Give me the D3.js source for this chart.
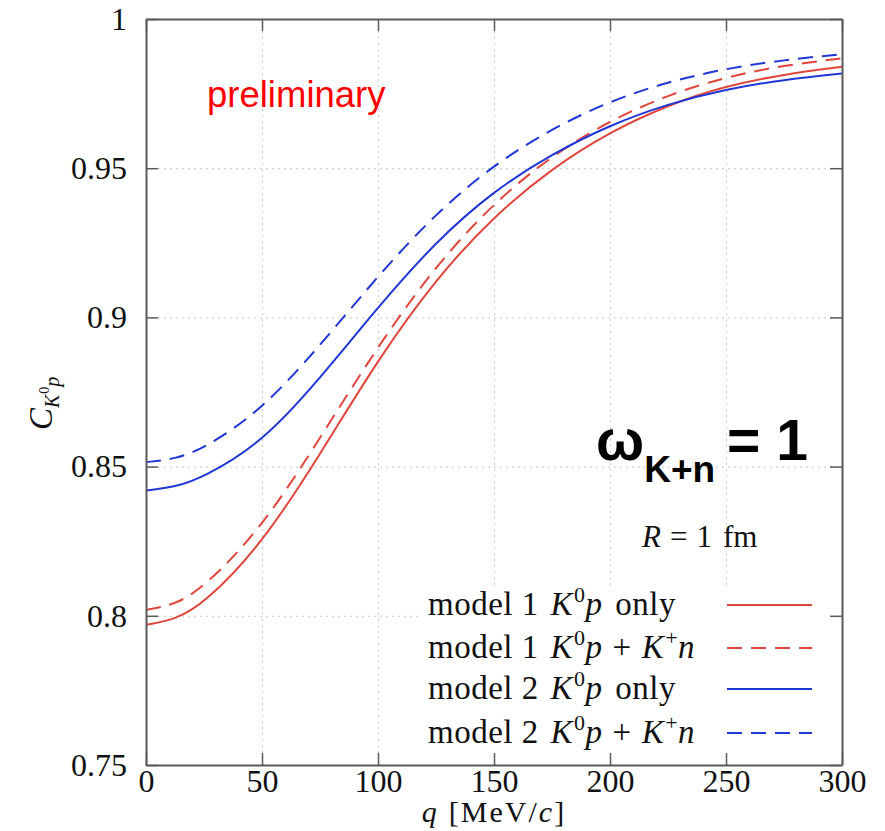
<!DOCTYPE html>
<html>
<head>
<meta charset="utf-8">
<script src="https://cdn.jsdelivr.net/npm/d3@7"></script>
<style>
  body { margin: 0; background: #fff; }
  svg text { font-family: "Liberation Serif", "DejaVu Serif", serif; fill: #111; }
</style>
</head>
<body>
<div id="chart"></div>
<script>
// values, q in MeV/c
const qValues = [0, 12.5, 25, 50, 75, 100, 125, 150, 175, 200, 225, 250, 275, 300];
const model1Only = [0.797, 0.7987, 0.8040, 0.8240, 0.8540, 0.8860, 0.9130, 0.9340, 0.9500, 0.9622, 0.9712, 0.9776, 0.9815, 0.9840];
const model1Both = [0.802, 0.8037, 0.8095, 0.8295, 0.8595, 0.8905, 0.9175, 0.9385, 0.9543, 0.9660, 0.9746, 0.9806, 0.9845, 0.9868];
const model2Only = [0.842, 0.8431, 0.8465, 0.8580, 0.8795, 0.9035, 0.9255, 0.9425, 0.9548, 0.9645, 0.9716, 0.9765, 0.9797, 0.9817];
const model2Both = [0.8515, 0.8525, 0.8560, 0.8690, 0.8905, 0.9140, 0.9350, 0.9512, 0.9633, 0.9725, 0.9790, 0.9834, 0.9863, 0.9882];

const xTicks = [0, 50, 100, 150, 200, 250, 300];
const yTicks = [0.75, 0.8, 0.85, 0.9, 0.95, 1];
const yTickLabels = ["0.75", "0.8", "0.85", "0.9", "0.95", "1"];

const seriesNames = ["model 1 K0p only", "model 1 K0p + K+n", "model 2 K0p only", "model 2 K0p + K+n"];

const red = "#e0463b";
const blue = "#1f37d6";

const series = [
    {name: seriesNames[0], values: model1Only, color: red, dash: null, both: false},
    {name: seriesNames[1], values: model1Both, color: red, dash: "15,9", both: true},
    {name: seriesNames[2], values: model2Only, color: blue, dash: null, both: false},
    {name: seriesNames[3], values: model2Both, color: blue, dash: "15,9", both: true}
];

const W = 885, H = 831;
const pLeft = 146, pRight = 842, pTop = 19, pBottom = 765;

const x = d3.scaleLinear().domain([0, 300]).range([pLeft, pRight]);
const y = d3.scaleLinear().domain([0.75, 1]).range([pBottom, pTop]);

const svg = d3.select("#chart").append("svg")
    .attr("width", W).attr("height", H);

// dotted grid
svg.append("g")
    .attr("transform", `translate(0,${pBottom})`)
    .call(d3.axisBottom(x).tickValues(xTicks).tickSize(-(pBottom - pTop)).tickFormat(""))
    .call(g => g.select(".domain").remove())
    .selectAll("line").attr("stroke", "#c8c8c8").attr("stroke-dasharray", "2,4");
svg.append("g")
    .attr("transform", `translate(${pLeft},0)`)
    .call(d3.axisLeft(y).tickValues(yTicks).tickSize(-(pRight - pLeft)).tickFormat(""))
    .call(g => g.select(".domain").remove())
    .selectAll("line").attr("stroke", "#c8c8c8").attr("stroke-dasharray", "2,4");

// legend background covers the grid
const legX = 420, legTop = 585;
svg.append("rect")
    .attr("x", legX).attr("y", legTop)
    .attr("width", pRight - legX).attr("height", pBottom - legTop)
    .attr("fill", "#fff");

// curves
const line = d3.line()
    .x((d, i) => x(qValues[i]))
    .y(d => y(d))
    .curve(d3.curveBasis);

series.forEach(s => {
    svg.append("path")
        .datum(s.values)
        .attr("d", line)
        .attr("fill", "none")
        .attr("stroke", s.color)
        .attr("stroke-width", 2)
        .attr("stroke-dasharray", s.dash);
});

// axes with inward ticks on all sides
const frameColor = "#5a5a5a";
function styleAxis(g) {
    g.select(".domain").attr("stroke", frameColor).attr("stroke-width", 2);
    g.selectAll(".tick line").attr("stroke", frameColor).attr("stroke-width", 1.5);
    g.selectAll("text").attr("font-family", "Liberation Serif, serif").attr("font-size", 32).attr("fill", "#111");
}

svg.append("g")
    .attr("transform", `translate(0,${pBottom})`)
    .call(d3.axisBottom(x).tickValues(xTicks).tickSize(-12).tickSizeOuter(0).tickPadding(4))
    .call(styleAxis);
svg.append("g")
    .attr("transform", `translate(${pLeft},0)`)
    .call(d3.axisLeft(y).tickValues(yTicks).tickSize(-12).tickSizeOuter(0).tickPadding(19)
        .tickFormat((d, i) => yTickLabels[i]))
    .call(styleAxis);
svg.append("g")
    .attr("transform", `translate(0,${pTop})`)
    .call(d3.axisTop(x).tickValues(xTicks).tickSize(-12).tickSizeOuter(0).tickFormat(""))
    .call(styleAxis);
svg.append("g")
    .attr("transform", `translate(${pRight},0)`)
    .call(d3.axisRight(y).tickValues(yTicks).tickSize(-12).tickSizeOuter(0).tickFormat(""))
    .call(styleAxis);

// axis titles
const xt = svg.append("text")
    .attr("x", 494).attr("y", 822)
    .attr("text-anchor", "middle")
    .attr("font-size", 30)
    .attr("letter-spacing", 2);
xt.append("tspan").attr("font-style", "italic").text("q");
xt.append("tspan").attr("dx", 10).text("[MeV/");
xt.append("tspan").attr("font-style", "italic").text("c");
xt.append("tspan").text("]");

const yt = svg.append("text")
    .attr("transform", "translate(52,430) rotate(-90)")
    .attr("font-size", 33);
yt.append("tspan").attr("font-style", "italic").text("C");
yt.append("tspan").attr("font-style", "italic").attr("font-size", 20).attr("dy", 7).text("K");
yt.append("tspan").attr("font-size", 14).attr("dy", -10).attr("dx", 1).text("0");
yt.append("tspan").attr("font-style", "italic").attr("font-size", 20).attr("dy", 10).text("p");

// annotations
svg.append("text")
    .attr("x", 207).attr("y", 107)
    .style("font-family", "Liberation Sans, Arial, sans-serif")
    .attr("font-size", 36.5)
    .style("fill", "#ff0000")
    .text("preliminary");

const om = svg.append("text")
    .attr("x", 596).attr("y", 460)
    .style("font-family", "Liberation Sans, Arial, sans-serif")
    .attr("font-weight", "bold")
    .attr("font-size", 57)
    .style("fill", "#000");
om.append("tspan").text("ω");
om.append("tspan").attr("font-size", 37).attr("dy", 22).text("K+n");
om.append("tspan").attr("dy", -22).attr("dx", 12).text("= 1");

const rt = svg.append("text")
    .attr("x", 642).attr("y", 547)
    .attr("font-size", 31);
rt.append("tspan").attr("font-style", "italic").text("R");
rt.append("tspan").attr("dx", 9).text("=");
rt.append("tspan").attr("dx", 9).text("1");
rt.append("tspan").attr("dx", 11).text("fm");

// legend
const rowY = [605, 648, 689, 733];
series.forEach((s, i) => {
    const t = svg.append("text")
        .attr("x", 428).attr("y", rowY[i] + 10)
        .attr("font-size", 33)
        .attr("letter-spacing", 0.5);
    t.append("tspan").text(s.name.slice(0, 8));
    t.append("tspan").attr("dx", 3).attr("font-style", "italic").text("K");
    t.append("tspan").attr("font-size", 22).attr("dy", -13).attr("dx", 1).text("0");
    t.append("tspan").attr("font-style", "italic").attr("dy", 13).text("p");
    if (s.both) {
        t.append("tspan").attr("dx", 10).text("+");
        t.append("tspan").attr("dx", 10).attr("font-style", "italic").text("K");
        t.append("tspan").attr("font-size", 22).attr("dy", -13).attr("dx", 1).text("+");
        t.append("tspan").attr("font-style", "italic").attr("dy", 13).text("n");
    } else {
        t.append("tspan").attr("dx", 4).text(" only");
    }
    svg.append("line")
        .attr("x1", 727).attr("x2", 812)
        .attr("y1", rowY[i]).attr("y2", rowY[i])
        .attr("stroke", s.color)
        .attr("stroke-width", 2)
        .attr("stroke-dasharray", s.dash);
});
</script>
</body>
</html>
